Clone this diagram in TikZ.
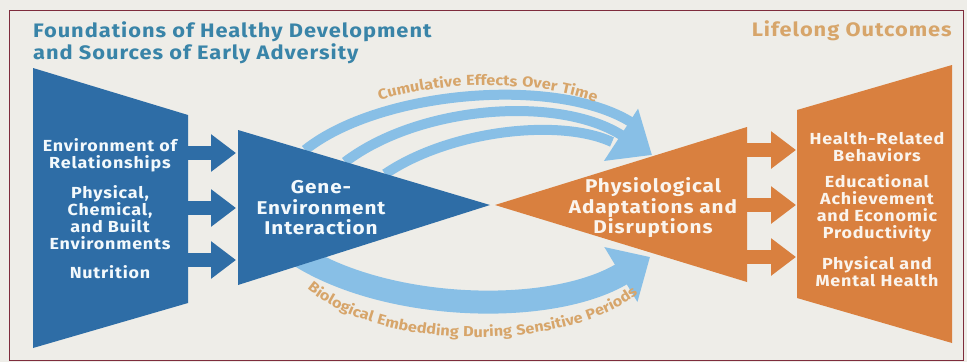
\documentclass[tikz,border=0pt]{standalone}
\usepackage{fontspec}
\setmainfont{Fira Sans}[FakeStretch=1.12, LetterSpace=5]
\usetikzlibrary{arrows.meta,decorations.text}

\definecolor{paper}{HTML}{EEEDE8}
\definecolor{deepblue}{HTML}{2E6DA6}
\definecolor{skyblue}{HTML}{88BFE6}
\definecolor{rust}{HTML}{D9803F}
\definecolor{sand}{HTML}{D7A56A}
\definecolor{headblue}{HTML}{3984A8}
\definecolor{frameline}{HTML}{7E2C3C}

\begin{document}
\begin{tikzpicture}[x=1pt, y=-1pt,
    heading/.style={font=\bfseries\fontsize{19.5}{22}\selectfont, align=left, inner sep=0},
    inblue/.style={font=\bfseries\fontsize{16}{17}\selectfont, text=white!90!skyblue, align=center, inner sep=0},
    inrust/.style={inblue, text=white!88!sand},
    core/.style={font=\bfseries\fontsize{18.5}{20.5}\selectfont, align=center, inner sep=0},
    feed/.style={line width=14pt, -{Triangle[length=25pt,width=36pt]}},
    band/.style={skyblue, line width=10pt},
    arclabel/.style={decoration={text along path, text align=center, text color=sand,
        text={|\bfseries\fontsize{14.5}{14.5}\selectfont|#1}}, decorate}]

% paper and frame
\fill[paper] (0,0) rectangle (967,362);
\useasboundingbox (0,0) rectangle (967,362);
\draw[frameline, line width=1pt] (9,10) rectangle (963,360);

% headings
\node[heading, text=headblue, anchor=base west] (roots) at (33,59)
    {Foundations of Healthy Development\\and Sources of Early Adversity};
\node[heading, text=sand, anchor=base east] (outcomes) at (952,36) {Lifelong Outcomes};

% cumulative effects: three arcs into one head
\draw[band] (305,150) .. controls (380,90) and (560,75) .. (634,124);
\draw[band] (385,174) .. controls (450,130) and (560,118) .. (612,142);
\draw[band, -{Triangle[length=37pt,width=60pt]}] (345,162) .. controls (420,105) and (560,95) .. (652,155);

% biological embedding
\draw[skyblue, line width=23pt, -{Triangle[length=34pt,width=62pt]}]
    (300,256) .. controls (390,312) and (552,316) .. (650,257);

% the four blocks
\coordinate (src-nw) at (33,68);  \coordinate (src-ne) at (188,115);
\coordinate (src-se) at (188,303); \coordinate (src-sw) at (33,348);
\coordinate (gen-nw) at (238,130); \coordinate (gen-tip) at (490,205); \coordinate (gen-sw) at (238,285);
\coordinate (phy-tip) at (495,205); \coordinate (phy-ne) at (747,127); \coordinate (phy-se) at (747,282);
\coordinate (out-nw) at (797,110); \coordinate (out-ne) at (952,65);
\coordinate (out-se) at (952,343); \coordinate (out-sw) at (797,298);

\fill[deepblue] (src-nw) -- (src-ne) -- (src-se) -- (src-sw) -- cycle;
\fill[deepblue] (gen-nw) -- (gen-tip) -- (gen-sw) -- cycle;
\fill[rust] (phy-tip) -- (phy-ne) -- (phy-se) -- cycle;
\fill[rust] (out-nw) -- (out-ne) -- (out-se) -- (out-sw) -- cycle;

% short arrows between blocks
\foreach \y [count=\i] in {153,208,260} {
  \coordinate (a\i) at (188,\y); \coordinate (b\i) at (236,\y);
  \draw[feed, deepblue] (a\i) -- (b\i);
}
\foreach \y [count=\i] in {150,205,257} {
  \coordinate (c\i) at (747,\y); \coordinate (d\i) at (796,\y);
  \draw[feed, rust] (c\i) -- (d\i);
}

% block texts
\node[inblue] (rel) at (110,155) {Environment of\\Relationships};
\node[inblue] (env) at (110,218) {Physical,\\Chemical,\\and Built\\Environments};
\node[inblue] (nut) at (110,272) {Nutrition};
\node[core, text=white!90!skyblue] (gene) at (321,208) {Gene-\\Environment\\Interaction};
\node[core, text=white!88!sand] (adapt) at (653,208) {Physiological\\Adaptations and\\Disruptions};
\node[inrust] (behav) at (877,147) {Health-Related\\Behaviors};
\node[inrust] (edu) at (877,208) {Educational\\Achievement\\and Economic\\Productivity};
\node[inrust] (health) at (877,272) {Physical and\\Mental Health};

% curved captions
\path[arclabel={Cumulative Effects Over Time}]
    (370,104) .. controls (430,80) and (545,78) .. (605,106);
\path[arclabel={Biological Embedding During Sensitive Periods}]
    (305,287) .. controls (380,354) and (570,352) .. (640,292);
\end{tikzpicture}
\end{document}
